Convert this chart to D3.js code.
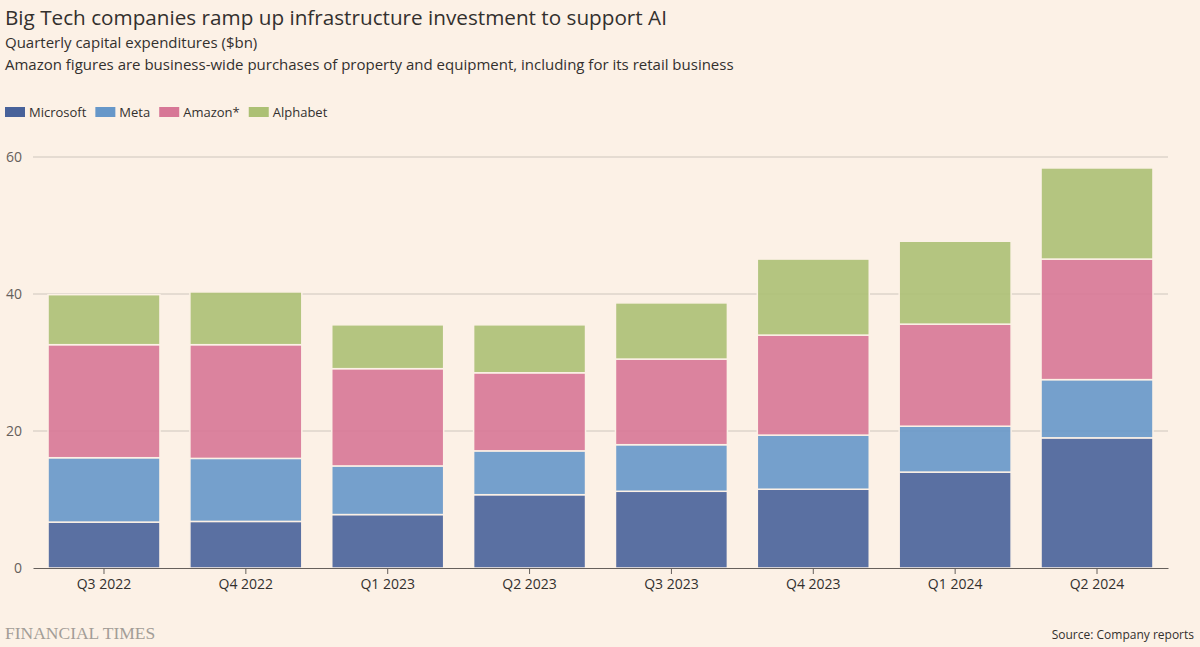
<!DOCTYPE html>
<html>
<head>
<meta charset="utf-8">
<script src="https://cdn.jsdelivr.net/npm/d3@7"></script>
<style>
  body { margin: 0; background: #fcf1e6; }
  svg { display: block; font-family: "Open Sans", "Noto Sans", sans-serif; }
</style>
</head>
<body>
<svg id="chart"></svg>
<script>
// data ($bn)
const quarters = ["Q3 2022", "Q4 2022", "Q1 2023", "Q2 2023", "Q3 2023", "Q4 2023", "Q1 2024", "Q2 2024"];
const microsoft = [6.7, 6.8, 7.8, 10.7, 11.2, 11.5, 14.0, 19.0];
const meta = [9.4, 9.2, 7.1, 6.4, 6.8, 7.9, 6.7, 8.5];
const amazon = [16.5, 16.6, 14.2, 11.4, 12.5, 14.6, 14.9, 17.6];
const alphabet = [7.3, 7.7, 6.4, 7.0, 8.2, 11.1, 12.1, 13.3];
const yTicks = [0, 20, 40, 60];

const seriesNames = ["Microsoft", "Meta", "Amazon*", "Alphabet"];
const seriesColors = ["#48629a", "#6697c9", "#d77796", "#acc074"];

const width = 1200, height = 647;
const margin = { top: 157, right: 32, bottom: 79, left: 33 };

const svg = d3.select("#chart").attr("width", width).attr("height", height);

// titles
svg.append("text").attr("x", 5).attr("y", 25)
    .attr("font-size", 20.7).attr("fill", "#33302e")
    .text("Big Tech companies ramp up infrastructure investment to support AI");
svg.append("text").attr("x", 5).attr("y", 48)
    .attr("font-size", 15).attr("fill", "#33302e")
    .text("Quarterly capital expenditures ($bn)");
svg.append("text").attr("x", 5).attr("y", 70)
    .attr("font-size", 15).attr("fill", "#33302e")
    .text("Amazon figures are business-wide purchases of property and equipment, including for its retail business");

// legend
const legend = svg.append("g").attr("transform", "translate(5, 107)");
let lx = 0;
seriesNames.forEach((name, i) => {
    const g = legend.append("g").attr("transform", `translate(${lx}, 0)`);
    g.append("rect").attr("width", 20).attr("height", 10).attr("fill", seriesColors[i]);
    const t = g.append("text").attr("x", 24).attr("y", 10)
        .attr("font-size", 13).attr("fill", "#33302e").text(name);
    lx += 24 + t.node().getComputedTextLength() + 9;
});

// stacked data
const rows = quarters.map((q, i) => ({
    quarter: q,
    "Microsoft": microsoft[i], "Meta": meta[i], "Amazon*": amazon[i], "Alphabet": alphabet[i]
}));
const stacked = d3.stack().keys(seriesNames)(rows);

const x = d3.scaleBand().domain(quarters)
    .range([margin.left, width - margin.right])
    .paddingInner(0.211).paddingOuter(0.106);
const y = d3.scaleLinear().domain([0, 60]).range([height - margin.bottom, margin.top]);

// gridlines
svg.append("g").selectAll("line")
    .data(yTicks.filter(d => d > 0))
    .join("line")
    .attr("x1", margin.left).attr("x2", width - margin.right)
    .attr("y1", d => y(d)).attr("y2", d => y(d))
    .attr("stroke", "#cec6bd").attr("stroke-width", 1);

// y labels
svg.append("g").selectAll("text")
    .data(yTicks)
    .join("text")
    .attr("x", 22).attr("y", d => y(d) + 5)
    .attr("text-anchor", "end")
    .attr("font-size", 14).attr("fill", "#66605c")
    .text(d => d);

// bars
svg.append("g").selectAll("g")
    .data(stacked)
    .join("g")
    .attr("fill", (d, i) => seriesColors[i])
    .selectAll("rect")
    .data(d => d)
    .join("rect")
    .attr("x", d => x(d.data.quarter))
    .attr("width", x.bandwidth())
    .attr("y", d => y(d[1]))
    .attr("height", d => y(d[0]) - y(d[1]))
    .attr("fill-opacity", 0.9)
    .attr("stroke", "#fcf1e6").attr("stroke-width", 1.5);

// x axis
const xAxis = svg.append("g")
    .attr("transform", `translate(0, ${height - margin.bottom})`)
    .call(d3.axisBottom(x).tickSize(6).tickPadding(5).tickSizeOuter(0));
xAxis.select(".domain").attr("stroke", "#66605c");
xAxis.selectAll(".tick line").attr("stroke", "#66605c");
xAxis.selectAll(".tick text")
    .attr("font-size", 14).attr("fill", "#33302e")
    .attr("font-family", "'Open Sans', 'Noto Sans', sans-serif");

// footer
svg.append("text").attr("x", 5).attr("y", 639)
    .attr("font-family", "'Liberation Serif', 'DejaVu Serif', serif")
    .attr("font-size", 17.5).attr("fill", "#a39d97")
    .text("FINANCIAL TIMES");
svg.append("text").attr("x", 1194).attr("y", 639)
    .attr("text-anchor", "end")
    .attr("font-size", 12).attr("fill", "#33302e")
    .text("Source: Company reports");
</script>
</body>
</html>
